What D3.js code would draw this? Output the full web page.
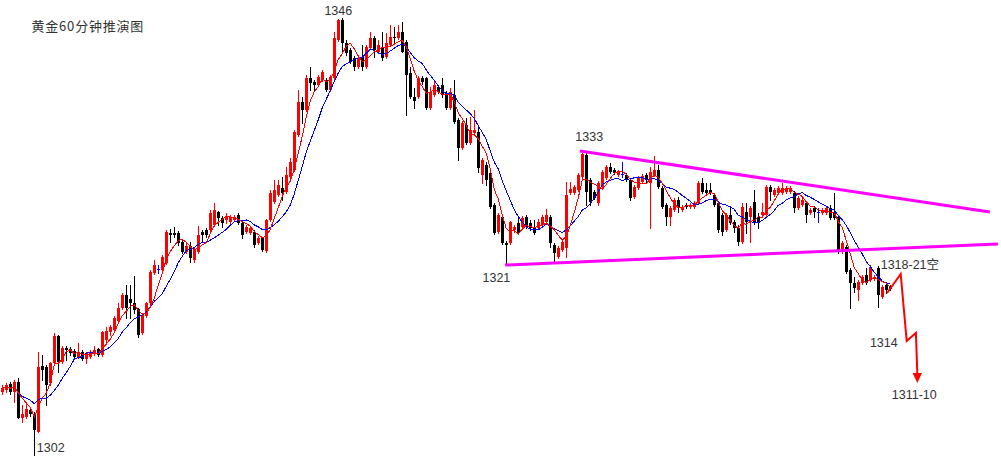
<!DOCTYPE html>
<html><head><meta charset="utf-8">
<script src="https://cdn.jsdelivr.net/npm/d3@7"></script>
<style>body{margin:0;background:#fff;}svg{display:block;}</style>
</head><body><svg id="c" width="1001" height="456"></svg>
<script>
const open = [
1308.8,1309.0,1309.6,1308.8,1309.8,1306.2,1306.3,1307.0,1306.5,1304.8,
1311.4,1311.3,1309.7,1311.7,1314.4,1311.8,1313.2,1313.1,1312.9,1312.3,
1312.8,1312.1,1312.3,1312.6,1313.1,1312.5,1314.0,1314.8,1315.0,1315.9,
1317.2,1318.5,1318.1,1317.7,1317.1,1314.7,1316.4,1317.7,1320.7,1321.1,
1321.0,1321.7,1324.7,1324.7,1324.7,1323.8,1322.8,1323.4,1322.0,1322.8,
1324.8,1325.0,1325.0,1325.5,1326.8,1326.2,1326.0,1325.8,1326.0,1326.5,
1325.7,1324.8,1324.7,1324.8,1323.7,1324.2,1322.9,1326.0,1327.8,1328.5,
1329.2,1328.8,1330.3,1331.0,1334.5,1337.8,1337.0,1340.2,1339.8,1339.5,
1340.0,1340.0,1339.0,1340.2,1344.0,1346.0,1343.7,1343.0,1342.2,1341.3,
1342.3,1341.3,1343.2,1344.2,1342.8,1343.3,1342.3,1343.5,1344.3,1344.2,
1344.8,1343.8,1340.7,1338.3,1338.3,1340.2,1340.2,1337.2,1338.5,1339.3,
1339.5,1338.7,1337.2,1338.5,1336.0,1333.2,1335.5,1333.7,1334.7,1334.8,
1330.5,1331.5,1330.7,1327.5,1324.8,1326.3,1323.7,1323.7,1325.0,1325.7,
1325.3,1326.3,1325.7,1325.3,1325.2,1325.5,1325.8,1326.3,1323.5,1322.3,
1323.0,1323.2,1328.7,1328.7,1329.0,1330.3,1332.5,1330.0,1328.8,1327.7,
1329.3,1330.2,1331.3,1331.0,1330.5,1330.6,1330.5,1330.0,1328.3,1329.2,
1329.8,1330.5,1329.7,1330.5,1331.0,1329.2,1327.5,1326.3,1327.0,1328.0,
1327.0,1327.5,1327.3,1327.3,1327.7,1329.7,1329.0,1329.0,1328.5,1327.7,
1326.5,1325.0,1326.5,1325.8,1325.2,1323.8,1326.8,1326.3,1327.8,1326.3,
1326.5,1326.5,1329.3,1328.5,1328.7,1328.7,1328.8,1328.8,1328.7,1327.2,
1327.5,1327.7,1326.7,1327.2,1326.8,1326.7,1326.7,1327.2,1326.7,1326.3,
1322.8,1323.3,1321.0,1319.7,1319.0,1319.7,1320.5,1320.0,1320.1,1321.2,
1318.3,1319.5,1319.3];
const high = [
1309.5,1309.7,1309.8,1310.0,1310.2,1307.5,1307.8,1307.2,1306.8,1312.8,
1312.5,1311.5,1311.8,1314.7,1314.5,1313.4,1313.4,1313.3,1313.1,1313.7,
1313.0,1312.8,1313.0,1313.4,1313.2,1314.9,1315.3,1315.5,1316.4,1317.7,
1318.7,1319.5,1319.5,1320.4,1317.2,1316.7,1317.8,1321.0,1322.0,1321.5,
1322.5,1325.0,1325.1,1325.3,1324.9,1324.0,1323.8,1323.8,1323.2,1325.4,
1325.0,1325.2,1327.0,1327.7,1326.9,1326.4,1326.7,1326.5,1326.5,1326.7,
1325.8,1325.5,1325.4,1325.0,1324.4,1324.3,1326.1,1329.0,1330.0,1330.0,
1330.3,1331.3,1332.2,1335.0,1339.0,1338.3,1340.5,1341.3,1340.0,1340.5,
1341.0,1340.2,1340.5,1344.8,1346.1,1346.2,1344.0,1343.2,1342.4,1342.5,
1343.5,1343.5,1344.8,1344.4,1344.0,1344.8,1344.7,1345.5,1345.3,1345.5,
1345.8,1344.0,1341.3,1339.2,1340.4,1340.4,1340.3,1339.3,1340.0,1339.5,
1340.2,1338.9,1339.2,1340.0,1336.2,1335.9,1336.2,1336.3,1337.0,1335.3,
1332.2,1331.8,1330.8,1327.7,1326.7,1326.5,1323.9,1325.9,1325.5,1326.3,
1326.4,1326.5,1326.0,1326.0,1326.1,1326.5,1327.1,1326.5,1323.7,1323.4,
1324.0,1329.8,1329.8,1329.5,1330.7,1333.0,1332.7,1330.2,1329.0,1329.9,
1331.0,1331.5,1331.7,1331.2,1331.0,1331.8,1330.7,1330.2,1329.5,1330.4,
1330.6,1330.7,1331.3,1332.4,1331.5,1329.4,1327.7,1327.4,1328.2,1328.3,
1327.5,1327.7,1327.7,1327.9,1329.9,1330.2,1329.7,1329.7,1328.7,1327.9,
1326.7,1326.7,1327.3,1326.0,1325.5,1327.7,1327.7,1327.4,1329.0,1326.7,
1327.7,1329.5,1329.5,1329.2,1329.4,1329.7,1329.4,1329.4,1328.9,1328.4,
1328.2,1327.9,1327.2,1327.4,1327.2,1327.2,1327.3,1327.5,1328.7,1326.5,
1323.9,1323.5,1321.2,1320.3,1320.0,1320.5,1321.2,1321.5,1320.5,1321.4,
1319.5,1319.7,1319.5];
const low = [
1308.6,1308.8,1308.6,1307.8,1306.2,1305.8,1306.2,1306.4,1302.5,1304.8,
1310.0,1307.5,1309.5,1311.6,1310.8,1311.7,1312.0,1312.5,1312.2,1312.2,
1312.0,1311.7,1312.2,1312.5,1312.4,1312.4,1313.8,1314.5,1314.9,1315.8,
1317.1,1316.2,1316.2,1316.7,1314.3,1314.6,1316.3,1317.6,1320.6,1320.7,
1320.8,1321.6,1323.8,1324.3,1323.5,1322.7,1322.7,1321.8,1321.8,1322.7,
1323.8,1324.3,1324.9,1325.4,1325.5,1325.3,1325.7,1325.7,1325.9,1325.6,
1324.2,1324.7,1324.6,1323.3,1323.6,1322.9,1322.8,1325.9,1327.7,1328.4,
1328.0,1328.7,1330.2,1330.9,1334.4,1335.7,1336.9,1339.0,1339.0,1339.4,
1339.9,1338.9,1338.9,1340.1,1343.9,1342.7,1342.5,1341.7,1341.0,1341.2,
1341.0,1341.2,1343.1,1342.3,1342.7,1342.0,1342.2,1343.4,1343.7,1344.1,
1342.8,1336.5,1338.2,1337.2,1338.2,1339.6,1337.1,1337.1,1338.4,1338.7,
1338.3,1337.1,1337.1,1335.7,1332.0,1333.1,1333.6,1333.6,1334.6,1330.8,
1329.7,1329.5,1327.2,1324.6,1324.7,1323.6,1321.5,1323.6,1324.8,1324.6,
1325.2,1325.2,1325.0,1324.6,1325.1,1325.4,1325.7,1323.3,1321.7,1322.2,
1322.9,1322.3,1328.6,1328.6,1328.9,1330.2,1327.5,1327.5,1328.1,1327.5,
1329.2,1330.1,1330.7,1330.6,1330.4,1330.3,1329.9,1328.0,1328.2,1329.1,
1329.7,1329.7,1325.2,1330.4,1329.2,1327.2,1325.5,1325.5,1326.9,1326.8,
1326.9,1327.2,1327.2,1327.2,1327.6,1328.7,1328.6,1328.6,1327.4,1324.8,
1324.5,1324.9,1325.6,1324.8,1323.5,1323.7,1324.7,1323.8,1325.6,1325.2,
1326.4,1326.4,1328.0,1328.4,1328.6,1328.6,1328.7,1328.7,1326.8,1327.1,
1327.4,1325.8,1326.6,1326.3,1325.8,1326.6,1326.6,1326.1,1326.1,1322.7,
1322.7,1320.7,1317.2,1318.8,1318.0,1319.6,1319.6,1319.9,1320.0,1317.3,
1318.2,1318.7,1319.0];
const close = [
1309.2,1309.5,1308.8,1309.8,1306.2,1306.6,1307.1,1306.6,1305.0,1311.3,
1311.0,1309.5,1311.7,1314.4,1311.8,1313.2,1313.0,1312.7,1312.3,1312.8,
1312.1,1312.7,1312.8,1313.0,1312.5,1314.8,1314.9,1315.3,1316.2,1317.2,
1318.5,1317.2,1317.7,1317.0,1314.5,1316.5,1317.7,1320.8,1321.5,1321.1,
1322.3,1324.8,1324.5,1324.5,1323.7,1322.8,1323.4,1322.2,1323.0,1324.5,
1324.5,1324.5,1326.7,1327.0,1326.2,1325.7,1326.4,1326.3,1326.3,1325.7,
1324.5,1325.3,1325.2,1323.5,1324.2,1323.0,1326.0,1328.7,1329.0,1329.5,
1328.7,1330.5,1331.8,1334.8,1337.8,1337.0,1340.2,1339.7,1339.5,1340.3,
1340.8,1339.0,1340.3,1344.2,1346.0,1343.7,1342.7,1341.8,1341.3,1342.2,
1341.3,1343.3,1344.2,1343.0,1343.5,1342.2,1343.7,1344.3,1344.2,1344.8,
1342.8,1340.5,1338.3,1337.9,1340.2,1339.8,1337.2,1338.8,1339.5,1338.8,
1338.5,1337.2,1338.8,1335.8,1333.2,1335.7,1333.7,1335.0,1335.0,1331.2,
1332.0,1330.0,1327.3,1324.7,1326.5,1323.7,1323.5,1325.8,1325.3,1324.7,
1326.2,1325.3,1325.2,1324.7,1325.8,1326.3,1326.5,1323.7,1322.7,1323.2,
1323.8,1328.5,1329.1,1329.3,1330.5,1332.6,1328.8,1327.8,1328.2,1329.7,
1330.8,1331.3,1330.8,1330.7,1330.8,1330.6,1330.0,1328.2,1329.3,1330.2,
1330.4,1330.0,1330.8,1331.0,1329.3,1327.3,1326.3,1327.2,1328.0,1327.3,
1327.3,1327.3,1327.5,1327.7,1329.7,1328.8,1328.7,1328.7,1327.5,1325.0,
1324.8,1326.5,1325.7,1325.2,1323.8,1327.3,1325.8,1327.2,1325.7,1325.7,
1326.8,1329.3,1328.8,1329.0,1329.2,1329.2,1329.2,1329.2,1327.2,1328.2,
1328.0,1326.5,1327.0,1326.8,1326.8,1327.0,1327.2,1326.2,1326.2,1322.8,
1323.7,1320.8,1319.7,1319.2,1319.8,1320.3,1319.7,1321.3,1320.3,1318.5,
1319.3,1319.0,1319.1];

// trend lines (bar index, price)
const upperTrendIdx = [144.4, 246.9];
const upperTrendPrice = [1332.9, 1326.8];
const lowerTrendIdx = [125.7, 248.9];
const lowerTrendPrice = [1321.5, 1323.6];
// projected path (bar index, price)
const projIdx = [221.2, 224.6, 226.1, 228.4, 228.75];
const projPrice = [1318.7, 1320.6, 1313.9, 1314.7, 1310.7];
const projTipPrice = 1309.7;
const title = "黄金60分钟推演图";
const pointLabels = ["1346", "1333", "1321", "1302"];
const pointBars = [84, 145, 126, 8];
const projLabels = ["1318-21空", "1314", "1311-10"];

const svg = d3.select("#c");
const x = d3.scaleLinear().domain([0, 250]).range([2.3, 1002.3]);
const y = d3.scaleLinear().domain([1348, 1302.4]).range([0, 456]);

const UP = "#ff0000", DOWN = "#000000", DOJI = "#0000ff";
const n = close.length;
const gC = svg.append("g").attr("shape-rendering", "crispEdges");
d3.range(n).forEach(i => {
  const cx = Math.round(x(i));
  const col = close[i] > open[i] ? UP : (close[i] < open[i] ? DOWN : DOJI);
  gC.append("line").attr("x1", cx + 0.5).attr("x2", cx + 0.5)
    .attr("y1", Math.round(y(high[i]))).attr("y2", Math.round(y(low[i])) + 1)
    .attr("stroke", col).attr("stroke-width", 1);
  const top = Math.round(y(Math.max(open[i], close[i])));
  const bot = Math.round(y(Math.min(open[i], close[i])));
  gC.append("rect").attr("x", cx - 1).attr("y", top)
    .attr("width", 3).attr("height", Math.max(1, bot - top)).attr("fill", col);
});

function ma(k) {
  return close.map((_, i) => d3.mean(close.slice(Math.max(0, i - k + 1), i + 1)));
}
const line = d3.line().x((d, i) => x(i)).y(d => y(d));
svg.append("path").datum(ma(10)).attr("d", line).attr("fill", "none")
  .attr("stroke", "#0000ff").attr("stroke-width", 1).attr("shape-rendering", "crispEdges");
svg.append("path").datum(ma(5)).attr("d", line).attr("fill", "none")
  .attr("stroke", "#ff0000").attr("stroke-width", 1).attr("shape-rendering", "crispEdges");

// trend lines
[[upperTrendIdx, upperTrendPrice], [lowerTrendIdx, lowerTrendPrice]].forEach(([I, P]) => {
  svg.append("line").attr("x1", x(I[0])).attr("y1", y(P[0]))
    .attr("x2", x(I[1])).attr("y2", y(P[1]))
    .attr("stroke", "#ff00ff").attr("stroke-width", 3);
});

// projection path
const pts = projIdx.map((d, i) => [x(d), y(projPrice[i])]);
svg.append("path").attr("d", d3.line()(pts)).attr("fill", "none")
  .attr("stroke", "#ff0000").attr("stroke-width", 2).attr("stroke-linejoin", "miter");
const last = pts[pts.length - 1];
const tipY = y(projTipPrice);
svg.append("path").attr("d", `M${last[0] - 4.7},${last[1]} L${last[0] + 4.7},${last[1]} L${last[0]},${tipY} Z`)
  .attr("fill", "#ff0000");

// texts
const font = "'Liberation Sans', Arial, 'Noto Sans CJK SC', sans-serif";
svg.append("text").attr("x", 31.5).attr("y", 30.5).text(title)
  .attr("font-family", "'Noto Sans CJK SC', sans-serif").attr("font-size", 13)
  .attr("letter-spacing", "0.8px").attr("fill", "#333");

function lbl(t, xx, yy, anchor) {
  svg.append("text").attr("x", xx).attr("y", yy).attr("text-anchor", anchor || "start")
    .attr("font-family", font).attr("font-size", 12.5).attr("fill", "#333").text(t);
}
// 1346 over the top high
lbl(pointLabels[0], x(pointBars[0]), y(high[pointBars[0]]) - 4, "middle");
lbl(pointLabels[1], x(pointBars[1]) - 7, y(high[pointBars[1]]) - 9, "start");
lbl(pointLabels[2], x(pointBars[2]) + 4, y(low[pointBars[2]]) + 17, "end");
lbl(pointLabels[3], x(pointBars[3]) + 2.5, y(low[pointBars[3]]) - 3, "start");
// 1306 line to label: wick already reaches
lbl(projLabels[0], pts[1][0] - 20, pts[1][1] - 5, "start");
lbl(projLabels[1], pts[2][0] - 9, pts[2][1] + 6, "end");
lbl(projLabels[2], last[0] - 3, tipY + 16, "middle");
</script></body></html>
